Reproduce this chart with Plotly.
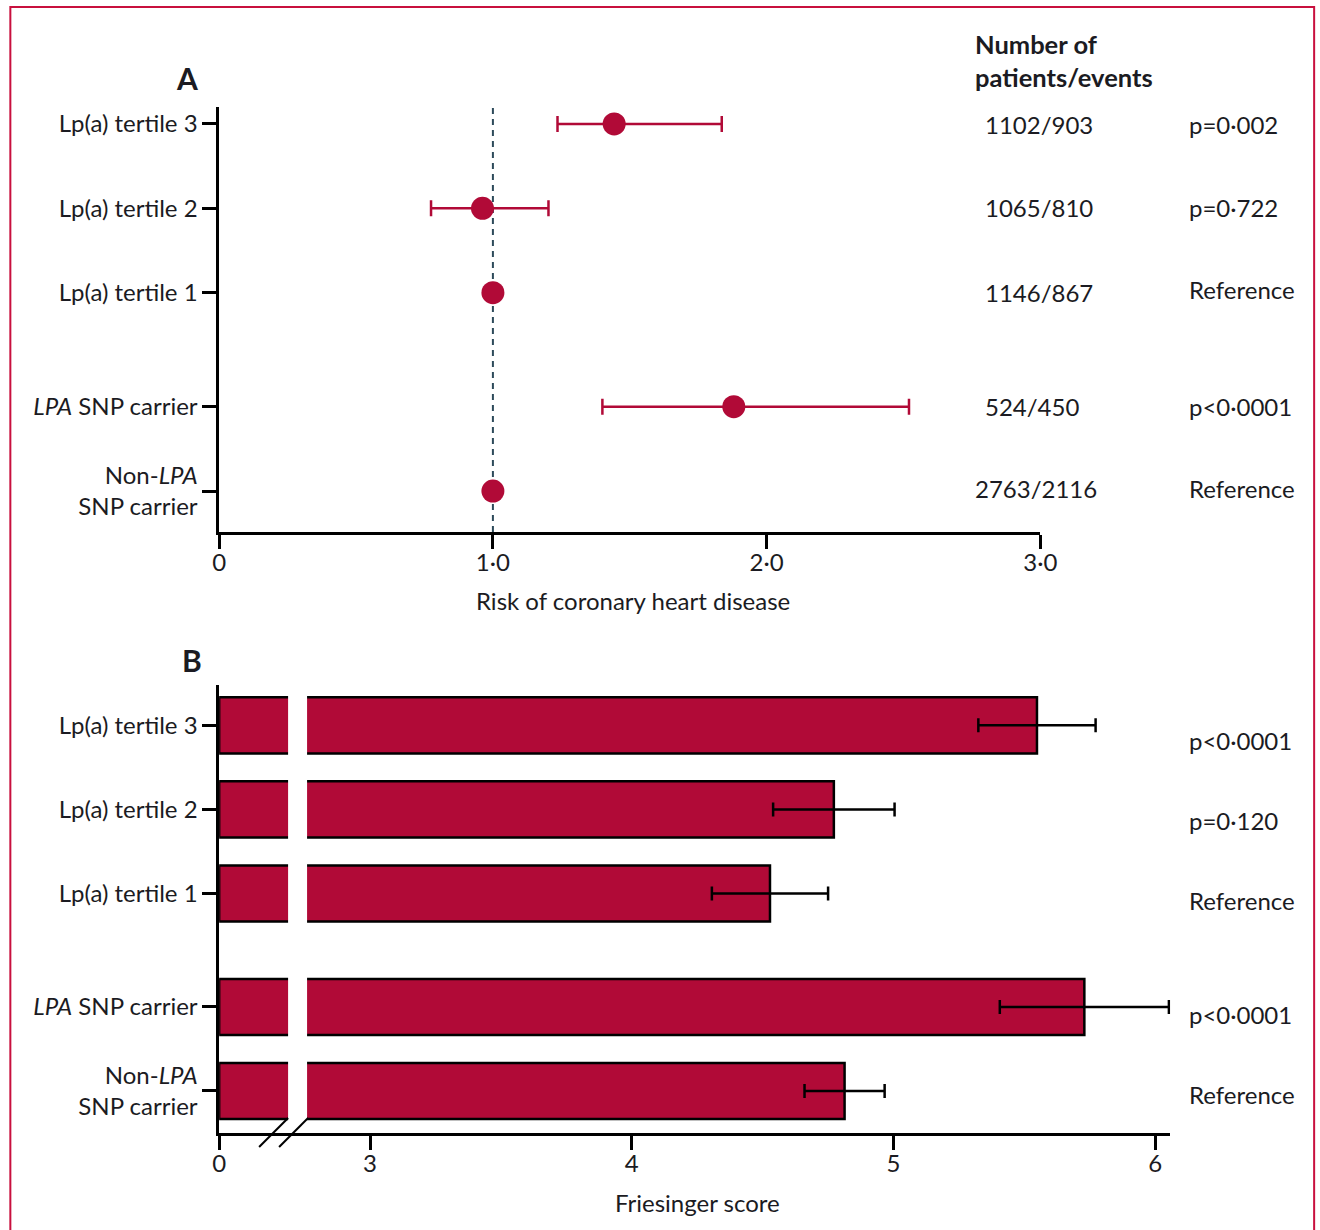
import plotly.graph_objects as go

W, H = 1340, 1230

# ---- data -------------------------------------------------------------
groups = ["Lp(a) tertile 3", "Lp(a) tertile 2", "Lp(a) tertile 1",
          "<i>LPA</i> SNP carrier", "Non-<i>LPA</i><br>SNP carrier"]
row_pos = [4.35, 3.35, 2.35, 1.0, 0.0]

# Panel A: risk of coronary heart disease (point estimate with 95% CI)
risk = [1.443, 0.962, 1.0, 1.88, 1.0]
risk_lo = [1.236, 0.774, 1.0, 1.40, 1.0]
risk_hi = [1.836, 1.203, 1.0, 2.52, 1.0]
patients_events = ["1102/903", "1065/810", "1146/867", "524/450", "2763/2116"]
p_values_a = ["p=0·002", "p=0·722", "Reference", "p<0·0001", "Reference"]
risk_ticks = [0, 1, 2, 3]
risk_tick_text = ["0", "1·0", "2·0", "3·0"]

# Panel B: Friesinger score (mean with error)
friesinger = [5.548, 4.772, 4.528, 5.729, 4.813]
friesinger_err = [0.224, 0.232, 0.222, 0.323, 0.153]
p_values_b = ["p<0·0001", "p=0·120", "Reference", "p<0·0001", "Reference"]
score_ticks = [3, 4, 5, 6]

# ---- styling ----------------------------------------------------------
CRIMSON = "#b10a37"
INK = "#1b1b22"
FONT = "Lato"
FS = 24

# horizontal layout grid: page position -> figure position
GX_SCALE, GX_OFF = 0.983, 5.65


def tx(x):
    return (x - GX_OFF) / GX_SCALE


def fx(x):
    """horizontal page position -> paper fraction"""
    return tx(x) / W


def fy(y):
    """vertical page position -> paper fraction"""
    return 1 - y / H


fig = go.Figure()

# Panel A: forest plot
fig.add_trace(go.Scatter(
    x=risk, y=row_pos, mode="markers",
    marker=dict(size=23, color=CRIMSON),
    error_x=dict(type="data", symmetric=False,
                 array=[h - r for h, r in zip(risk_hi, risk)],
                 arrayminus=[r - l for r, l in zip(risk, risk_lo)],
                 color=CRIMSON, thickness=2.5, width=8),
    xaxis="x", yaxis="y", showlegend=False, hoverinfo="skip"))

# Panel B: horizontal bars on a broken axis (short left segment + main segment)
bar_common = dict(orientation="h", width=0.667,
                  marker=dict(color=CRIMSON, line=dict(color="black", width=2.5)),
                  showlegend=False, hoverinfo="skip")
fig.add_trace(go.Bar(x=friesinger, y=row_pos, xaxis="x2", yaxis="y2", **bar_common))
fig.add_trace(go.Bar(x=friesinger, y=row_pos, xaxis="x3", yaxis="y2",
                     error_x=dict(type="data", array=friesinger_err,
                                  color="black", thickness=2.5, width=7),
                     **bar_common))

axis_common = dict(showline=True, linecolor="black", linewidth=2.5,
                   ticks="outside", ticklen=14, tickwidth=2.5, tickcolor="black",
                   showgrid=False, zeroline=False, fixedrange=True,
                   tickfont=dict(family=FONT, size=FS, color=INK))
x_axis_extra = dict(ticklabelstandoff=-7)

# A axes
a_x0, a_x1 = 218, 1040
a_ytop, a_ybot = 107, 532
fig.update_layout(
    xaxis=dict(domain=[fx(a_x0), fx(a_x1)], range=[0, 3], anchor="y",
               tickvals=risk_ticks, ticktext=risk_tick_text,
               **axis_common, **x_axis_extra),
    yaxis=dict(domain=[fy(a_ybot), fy(a_ytop)], range=[-0.485, 4.55],
               anchor="x", tickvals=row_pos, ticktext=groups, **axis_common),
)

# B axes: 0 at 218, break near 296, 3 at 369 ... 6 at 1155, line ends at 1170
b_x0, b_split, b_x1 = 218, 296, 1170
b_ytop, b_ybot = 685, 1133
unit = 262.0  # page pixels per score unit on the main segment
left_seg = (b_split - b_x0) / unit
seg_start = 3 - (369 - b_split) / unit
seg_end = 6 + (b_x1 - 1155) / unit
fig.update_layout(
    xaxis2=dict(domain=[fx(b_x0), fx(b_split)], range=[0, left_seg], anchor="y2",
                tickvals=[0], ticktext=["0"], **axis_common, **x_axis_extra),
    xaxis3=dict(domain=[fx(b_split), fx(b_x1)], range=[seg_start, seg_end], anchor="y2",
                tickvals=score_ticks, ticktext=[str(t) for t in score_ticks],
                **axis_common, **x_axis_extra),
    yaxis2=dict(domain=[fy(b_ybot), fy(b_ytop)], range=[-0.5, 4.83],
                anchor="x2", tickvals=row_pos, ticktext=groups, **axis_common),
)

shapes = []
# reference line at 1·0
shapes.append(dict(type="line", xref="x", yref="y domain", x0=1, x1=1, y0=0, y1=1,
                   line=dict(color="#2d4a5a", width=2, dash="6px,5px"), layer="below"))
# white gap through the bars at the axis break
shapes.append(dict(type="rect", xref="paper", yref="paper",
                   x0=fx(287), x1=fx(306), y0=fy(1121), y1=fy(690),
                   fillcolor="white", line=dict(width=0), layer="above"))
# break marks on the x axis
for sx in (258, 278):
    shapes.append(dict(type="line", xref="paper", yref="paper",
                       x0=fx(sx), y0=fy(1147), x1=fx(sx + 29), y1=fy(1118),
                       line=dict(color="black", width=2)))
# outer frame
shapes.append(dict(type="rect", xref="paper", yref="paper",
                   x0=fx(9), y0=fy(1260), x1=fx(1314), y1=fy(7),
                   line=dict(color="#c8103e", width=2)))

annotations = []


def note(text, x, y, xanchor="left", size=FS, bold=False):
    if bold:
        text = f"<b>{text}</b>"
    annotations.append(dict(text=text, x=fx(x), y=fy(y), xref="paper", yref="paper",
                            xanchor=xanchor, yanchor="middle", showarrow=False,
                            font=dict(family=FONT, size=size, color=INK)))


note("A", 186, 78, xanchor="center", size=30, bold=True)
note("B", 191, 660, xanchor="center", size=30, bold=True)
note("Number of", 973, 44, size=25.5, bold=True)
note("patients/events", 973, 77, size=25.5, bold=True)

count_y = [125, 207, 292, 407, 488]
count_x = [983, 983, 983, 983, 973]
for t, x, y in zip(patients_events, count_x, count_y):
    note(t, x, y)

pa_y = [125, 207, 289, 407, 488]
for t, y in zip(p_values_a, pa_y):
    note(t, 1187, y)

pb_y = [740, 820, 900, 1014, 1094]
for t, y in zip(p_values_b, pb_y):
    note(t, 1187, y)

note("Risk of coronary heart disease", 632, 600, xanchor="center")
note("Friesinger score", 697, 1202, xanchor="center")

fig.update_layout(
    width=W, height=H, autosize=False,
    margin=dict(l=0, r=0, t=0, b=0),
    paper_bgcolor="white", plot_bgcolor="white",
    font=dict(family=FONT, size=FS, color=INK),
    shapes=shapes, annotations=annotations,
    barmode="overlay", showlegend=False,
)

fig.write_html("out.html", config={"displayModeBar": False})
